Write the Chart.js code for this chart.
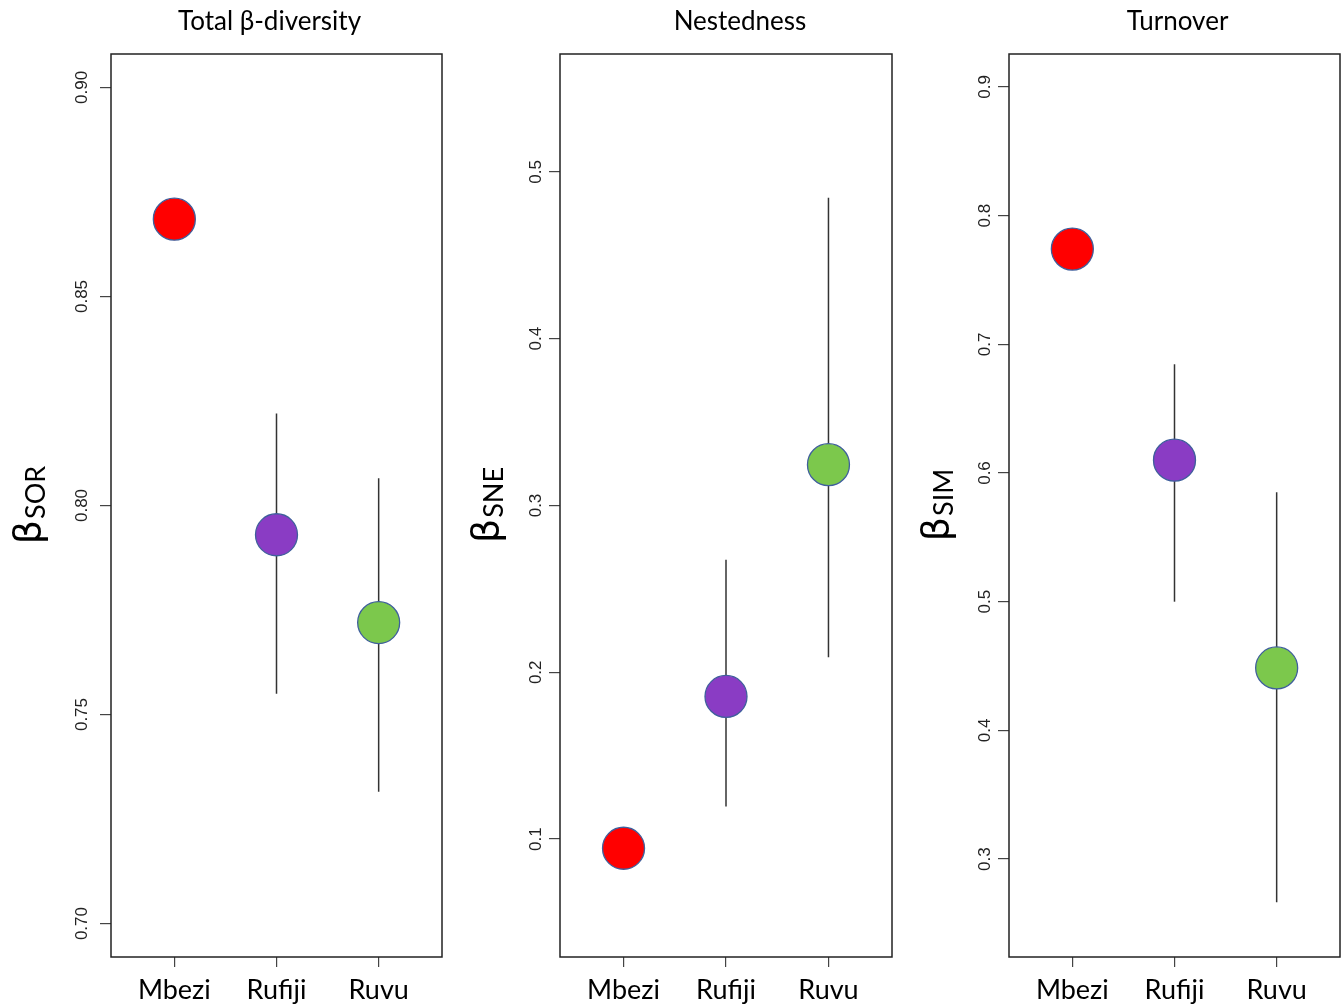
<!DOCTYPE html>
<html>
<head>
<meta charset="utf-8">
<script src="https://cdn.jsdelivr.net/npm/chart.js@4.4.1/dist/chart.umd.min.js"></script>
<style>
  body { margin: 0; background: #fff; overflow: hidden; }
  canvas { position: absolute; top: 0; }
</style>
</head>
<body>
<canvas id="sorChart" width="449" height="1007" style="left:0px"></canvas>
<canvas id="sneChart" width="449" height="1007" style="left:449px"></canvas>
<canvas id="simChart" width="446" height="1007" style="left:898px"></canvas>
<script>
// Categories
var regions = ["Mbezi", "Rufiji", "Ruvu"];
var regionColors = ["#ff0000", "#8a3cc4", "#7cc84c"];

// Total beta-diversity (SOR)
var sorMean = [0.8685, 0.793, 0.772];
var sorLow = [null, 0.755, 0.7315];
var sorHigh = [null, 0.822, 0.8065];
var sorTicks = [0.70, 0.75, 0.80, 0.85, 0.90];

// Nestedness (SNE)
var sneMean = [0.0945, 0.1855, 0.3245];
var sneLow = [null, 0.1195, 0.209];
var sneHigh = [null, 0.2675, 0.4845];
var sneTicks = [0.1, 0.2, 0.3, 0.4, 0.5];

// Turnover (SIM)
var simMean = [0.774, 0.610, 0.4485];
var simLow = [null, 0.500, 0.2665];
var simHigh = [null, 0.6845, 0.585];
var simTicks = [0.3, 0.4, 0.5, 0.6, 0.7, 0.8, 0.9];

// Draws the box round the plot, the panel title and the beta axis title
var boxPlugin = {
  id: 'boxPlugin',
  afterDraw: function(chart, args, opts) {
    var ctx = chart.ctx;
    var a = chart.chartArea;
    ctx.save();
    ctx.strokeStyle = '#222';
    ctx.lineWidth = 1.5;
    ctx.strokeRect(a.left, a.top, a.right - a.left, a.bottom - a.top);

    // panel title
    ctx.fillStyle = '#000';
    ctx.font = '26px Lato';
    ctx.textAlign = 'center';
    ctx.textBaseline = 'middle';
    ctx.fillText(opts.title, (a.left + a.right) / 2 + opts.titleDx, 22);

    // y title: beta with subscript
    var cy = (a.top + a.bottom) / 2;
    ctx.translate(opts.titleX, cy);
    ctx.rotate(-Math.PI / 2);
    ctx.textAlign = 'left';
    ctx.textBaseline = 'alphabetic';
    ctx.font = '38px "DejaVu Sans"';
    var wB = ctx.measureText('\u03b2').width;
    ctx.font = '27px Lato';
    var wS = ctx.measureText(opts.sub).width;
    var start = -(wB + wS) / 2;
    ctx.font = '38px "DejaVu Sans"';
    ctx.fillText('\u03b2', start, 0);
    ctx.font = '27px Lato';
    ctx.fillText(opts.sub, start + wB + 1, 5);
    ctx.restore();
  }
};

function makePanel(id, title, titleDx, sub, mean, low, high, ticks, yMin, yMax, digits, padRight, titleX) {
  var points = [];
  for (var i = 0; i < regions.length; i++) {
    points.push({x: i + 1, y: mean[i]});
  }
  var datasets = [{
    type: 'scatter',
    data: points,
    backgroundColor: regionColors,
    borderColor: '#3f5f9c',
    borderWidth: 1.3,
    pointRadius: 21,
    pointHoverRadius: 21,
    order: 0
  }];
  // error bars
  for (var j = 0; j < regions.length; j++) {
    if (low[j] == null) continue;
    datasets.push({
      type: 'line',
      data: [{x: j + 1, y: low[j]}, {x: j + 1, y: high[j]}],
      borderColor: '#333',
      borderWidth: 1.5,
      pointRadius: 0,
      fill: false,
      order: 1
    });
  }

  return new Chart(document.getElementById(id), {
    type: 'scatter',
    data: { datasets: datasets },
    plugins: [boxPlugin],
    options: {
      responsive: false,
      animation: false,
      events: [],
      layout: { autoPadding: false, padding: { top: 54, left: 0, right: padRight, bottom: 0 } },
      plugins: {
        legend: { display: false },
        tooltip: { enabled: false },
        title: { display: false },
        boxPlugin: { title: title, titleDx: titleDx, sub: sub, titleX: titleX }
      },
      scales: {
        x: {
          type: 'linear',
          min: 0.38,
          max: 3.62,
          afterBuildTicks: function(scale) {
            scale.ticks = regions.map(function(r, k) { return {value: k + 1}; });
          },
          afterFit: function(scale) { scale.height = 50; },
          border: { display: false },
          grid: { drawOnChartArea: false, drawTicks: true, tickLength: 10, color: '#444', lineWidth: 1.2 },
          ticks: {
            autoSkip: false,
            maxRotation: 0,
            padding: 7,
            color: '#000',
            font: { family: 'Lato', size: 27 },
            callback: function(v) { return regions[Math.round(v) - 1]; }
          }
        },
        y: {
          type: 'linear',
          min: yMin,
          max: yMax,
          afterBuildTicks: function(scale) {
            scale.ticks = ticks.map(function(v) { return {value: v}; });
          },
          afterFit: function(scale) { scale.width = 111; },
          border: { display: false },
          grid: { drawOnChartArea: false, drawTicks: true, tickLength: 11, color: '#444', lineWidth: 1.2 },
          ticks: {
            minRotation: 90,
            maxRotation: 90,
            crossAlign: 'center',
            padding: 1,
            color: '#222',
            font: { family: '"Liberation Sans Narrow", "Liberation Sans", Arial', size: 17 },
            callback: function(v) { return v.toFixed(digits); }
          }
        }
      }
    }
  });
}

makePanel('sorChart', 'Total \u03b2-diversity', -7, 'SOR', sorMean, sorLow, sorHigh, sorTicks, 0.692, 0.908, 2, 7, 40);
makePanel('sneChart', 'Nestedness', 14, 'SNE', sneMean, sneLow, sneHigh, sneTicks, 0.0293, 0.5707, 1, 6, 49);
makePanel('simChart', 'Turnover', 3, 'SIM', simMean, simLow, simHigh, simTicks, 0.2239, 0.9256, 1, 4, 50);
</script>
</body>
</html>
